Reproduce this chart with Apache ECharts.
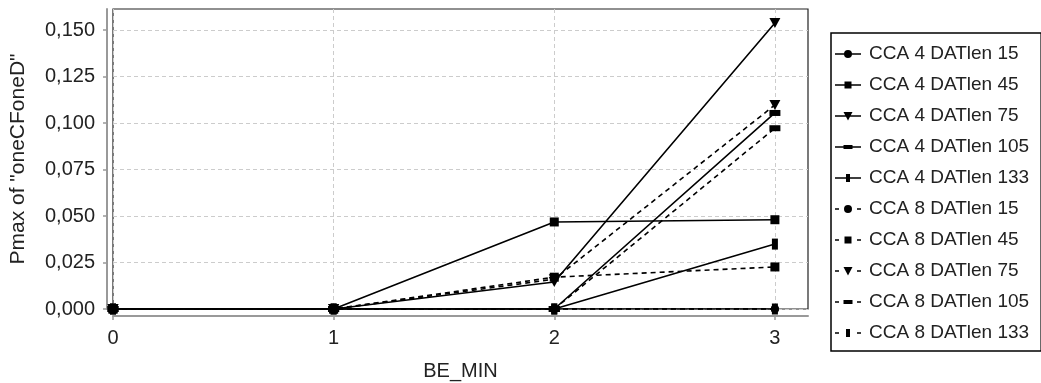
<!DOCTYPE html>
<html>
<head>
<meta charset="utf-8">
<script src="https://cdn.jsdelivr.net/npm/echarts@6/dist/echarts.min.js"></script>
<style>html,body{margin:0;padding:0;background:#fff}#c{width:1041px;height:383px}</style>
</head>
<body>
<div id="c"></div>
<script>
const xValues = [0, 1, 2, 3];
const xTicks = [0, 1, 2, 3];
const yTicks = [0, 0.025, 0.05, 0.075, 0.1, 0.125, 0.15];
const seriesNames = [
  'CCA 4 DATlen 15', 'CCA 4 DATlen 45', 'CCA 4 DATlen 75', 'CCA 4 DATlen 105', 'CCA 4 DATlen 133',
  'CCA 8 DATlen 15', 'CCA 8 DATlen 45', 'CCA 8 DATlen 75', 'CCA 8 DATlen 105', 'CCA 8 DATlen 133'
];
const cca4len15 = [0, 0, 0, 0];
const cca4len45 = [0, 0, 0.0468, 0.0480];
const cca4len75 = [0, 0, 0.0145, 0.1538];
const cca4len105 = [0, 0, 0, 0.1054];
const cca4len133 = [0, 0, 0, 0.0349];
const cca8len15 = [0, 0, 0, 0];
const cca8len45 = [0, 0, 0.0171, 0.0226];
const cca8len75 = [0, 0, 0.0160, 0.1097];
const cca8len105 = [0, 0, 0, 0.0972];
const cca8len133 = [0, 0, 0, 0];
const seriesValues = [cca4len15, cca4len45, cca4len75, cca4len105, cca4len133,
  cca8len15, cca8len45, cca8len75, cca8len105, cca8len133];

const symbols = ['circle', 'rect', 'triangle', 'rect', 'rect'];
const symbolSizes = [8, 9, [11, 10], [11, 6], [6, 11]];
const symbolRot = [0, 0, 180, 0, 0];
const FONT = '"Liberation Sans", Arial, sans-serif';

// legend icons: line + marker drawn in a 26x10 box
const markerPaths = [
  'M9,5A4,4 0 1,1 17,5A4,4 0 1,1 9,5Z',
  'M9.5,1.5H16.5V8.5H9.5Z',
  'M8.5,1H17.5L13,9.5Z',
  'M8.5,3H17.5V7H8.5Z',
  'M11,1H15V9H11Z'
];
const solidLine = 'M0,4.3H26V5.7H0Z';
const dashLine = 'M0,4.3H4V5.7H0Z M22,4.3H26V5.7H22Z';
const frame = 'M0,0H0.01V0.01H0Z M25.99,9.99H26V10H25.99Z';

const series = seriesNames.map((name, i) => {
  const k = i % 5;
  const dashed = i >= 5;
  return {
    name: name,
    type: 'line',
    data: xValues.map((x, j) => [x, seriesValues[i][j]]),
    symbol: symbols[k],
    symbolSize: symbolSizes[k],
    symbolRotate: symbolRot[k],
    showAllSymbol: true,
    lineStyle: { color: '#000', width: 1.6, type: dashed ? [5, 4] : 'solid' },
    itemStyle: { color: '#000' },
    animation: false
  };
});

const legendData = seriesNames.map((name, i) => ({
  name: name,
  icon: 'path://' + frame + ' ' + (i >= 5 ? dashLine : solidLine) + ' ' + markerPaths[i % 5]
}));

const chart = echarts.init(document.getElementById('c'), null, { renderer: 'canvas' });
chart.setOption({
  animation: false,
  backgroundColor: '#fff',
  textStyle: { fontFamily: FONT },
  grid: {
    left: 113, top: 9, right: 233, bottom: 74, containLabel: false, outerBoundsMode: 'none',
    show: true, borderColor: '#222', borderWidth: 1.2, backgroundColor: '#fff'
  },
  legend: {
    orient: 'vertical',
    left: 831, top: 33,
    padding: [11, 12, 8, 4],
    itemWidth: 26, itemHeight: 10,
    itemGap: 11,
    borderColor: '#000', borderWidth: 1.5,
    itemStyle: { color: '#000', borderWidth: 0 },
    textStyle: { fontFamily: FONT, fontSize: 19, color: '#222', lineHeight: 20, padding: [0, 0, 0, 3] },
    data: legendData
  },
  xAxis: {
    type: 'value',
    min: 0, max: 3.15, interval: 1,
    offset: 7,
    name: 'BE_MIN', nameLocation: 'middle', nameGap: 45,
    nameTextStyle: { fontFamily: FONT, fontSize: 20, color: '#222' },
    axisLine: { show: true, onZero: false, lineStyle: { color: '#999', width: 2 } },
    axisTick: { show: true, length: 4, lineStyle: { color: '#999', width: 1.5 }, customValues: xTicks },
    axisLabel: { fontFamily: FONT, fontSize: 20, color: '#222', margin: 12, customValues: xTicks,
      formatter: v => String(v) },
    splitLine: { show: true, lineStyle: { color: '#ccc', type: [4, 3], width: 1 } }
  },
  yAxis: {
    type: 'value',
    min: 0, max: 0.1613, interval: 0.025,
    offset: 6,
    name: 'Pmax of "oneCFoneD"', nameLocation: 'middle', nameGap: 78, nameRotate: 90,
    nameTextStyle: { fontFamily: FONT, fontSize: 21, color: '#222' },
    axisLine: { show: true, onZero: false, lineStyle: { color: '#999', width: 2 } },
    axisTick: { show: true, length: 4, lineStyle: { color: '#999', width: 1.5 }, customValues: yTicks },
    axisLabel: { fontFamily: FONT, fontSize: 20, color: '#222', margin: 12, customValues: yTicks,
      formatter: v => v.toFixed(3).replace('.', ',') },
    splitLine: { show: true, lineStyle: { color: '#ccc', type: [4, 3], width: 1 } }
  },
  series: series
});
</script>
</body>
</html>
